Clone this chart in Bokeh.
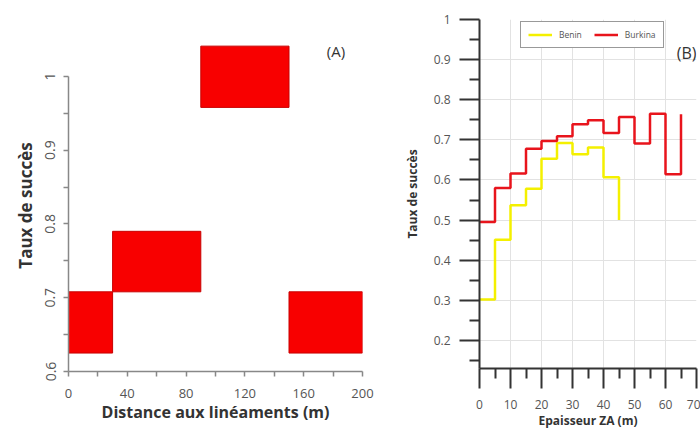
from bokeh.plotting import figure
from bokeh.layouts import row, column
from bokeh.models import Range1d, FixedTicker, NumeralTickFormatter, Label
from bokeh.embed import file_html
from bokeh.resources import INLINE

# ---------------- Panel A data ----------------
dist_left = [0, 30, 90, 150]
dist_right = [30, 90, 150, 200]
rate_low = [0.625, 0.708, 0.958, 0.625]
rate_high = [0.708, 0.790, 1.041, 0.708]
a_xticks = [0, 40, 80, 120, 160, 200]
a_xminor = [20, 60, 100, 140, 180]
a_yticks = [0.6, 0.7, 0.8, 0.9, 1.0]
a_yminor = [0.65, 0.75, 0.85, 0.95]

# ---------------- Panel B data ----------------
benin_x = [0, 5, 10, 15, 20, 25, 30, 35, 40, 45]
benin_y = [0.302, 0.451, 0.537, 0.578, 0.653, 0.692, 0.664, 0.681, 0.607, 0.500]
burkina_x = [0, 5, 10, 15, 20, 25, 30, 35, 40, 45, 50, 55, 60, 65]
burkina_y = [0.495, 0.580, 0.616, 0.678, 0.697, 0.709, 0.739, 0.749, 0.717,
             0.757, 0.691, 0.765, 0.614, 0.764]
b_xticks = [0, 10, 20, 30, 40, 50, 60, 70]
b_xminor = [5, 15, 25, 35, 45, 55, 65]
b_yticks = [0.2, 0.3, 0.4, 0.5, 0.6, 0.7, 0.8, 0.9, 1.0]
b_yminor = [0.15, 0.25, 0.35, 0.45, 0.55, 0.65, 0.75, 0.85, 0.95]

FONT = "Open Sans"

# ---------------- Panel A ----------------
pA = figure(width=400, height=431, output_backend="svg", toolbar_location=None,
            x_range=Range1d(0, 200), y_range=Range1d(0.6, 1.05),
            min_border_left=68, min_border_right=38, min_border_top=39,
            min_border_bottom=60)
pA.outline_line_color = None
pA.grid.visible = False
pA.quad(left=dist_left, right=dist_right, bottom=rate_low, top=rate_high,
        fill_color="#f80000", line_color="#c80000", line_width=1)

pA.xaxis.ticker = FixedTicker(ticks=a_xticks, minor_ticks=a_xminor)
pA.yaxis.ticker = FixedTicker(ticks=a_yticks, minor_ticks=a_yminor)
pA.yaxis.formatter = NumeralTickFormatter(format="0.[0]")
pA.xaxis.bounds = (0, 200)
pA.yaxis.bounds = (0.6, 1.0)
for ax in (pA.xaxis[0], pA.yaxis[0]):
    ax.axis_line_color = "#888888"
    ax.axis_line_width = 1.5
    ax.major_tick_line_color = "#888888"
    ax.minor_tick_line_color = "#888888"
    ax.major_tick_line_width = 1.5
    ax.minor_tick_line_width = 1.5
    ax.major_tick_out = 5
    ax.major_tick_in = 0
    ax.minor_tick_out = 5
    ax.minor_tick_in = 0
    ax.major_label_text_font = FONT
    ax.major_label_text_font_size = "14px"
    ax.major_label_text_color = "#555555"
    ax.axis_label_text_font = FONT
    ax.axis_label_text_font_style = "bold"
    ax.axis_label_text_color = "#333333"
pA.xaxis.axis_label_text_font_size = "16px"
pA.yaxis.axis_label_text_font_size = "17px"
pA.xaxis.major_label_text_font_size = "13px"
pA.yaxis.major_label_orientation = "vertical"
pA.xaxis.axis_label = "Distance aux linéaments (m)"
pA.yaxis.axis_label = "Taux de succès"
pA.xaxis.major_label_standoff = 12
pA.xaxis.axis_label_standoff = 0
pA.yaxis.major_label_standoff = 8
pA.yaxis.axis_label_standoff = 6
pA.add_layout(Label(x=182, y=1.035, text="(A)", text_font=FONT,
                    text_font_size="15px", text_color="#333333",
                    text_align="center", text_baseline="middle"))

# ---------------- Panel B ----------------
pB = figure(width=300, height=431, output_backend="svg", toolbar_location=None,
            x_range=Range1d(0, 70), y_range=Range1d(0.13, 1.0),
            min_border_left=78, min_border_right=4, min_border_top=19,
            min_border_bottom=63)
pB.outline_line_color = None
pB.xaxis.ticker = FixedTicker(ticks=b_xticks, minor_ticks=b_xminor)
pB.yaxis.ticker = FixedTicker(ticks=b_yticks, minor_ticks=b_yminor)
pB.yaxis.formatter = NumeralTickFormatter(format="0.[0]")
pB.grid.grid_line_color = "#e2e2e2"
pB.grid.grid_line_width = 1

pB.step(benin_x, benin_y, mode="after", line_color="#f4f000", line_width=2.5,
        legend_label="Benin")
pB.step(burkina_x, burkina_y, mode="after", line_color="#e8141c", line_width=2.5,
        legend_label="Burkina")

for ax in (pB.xaxis[0], pB.yaxis[0]):
    ax.axis_line_color = "#333333"
    ax.axis_line_width = 2
    ax.major_tick_line_color = "#333333"
    ax.minor_tick_line_color = "#333333"
    ax.major_tick_line_width = 2
    ax.minor_tick_line_width = 2
    ax.major_tick_out = 20
    ax.major_tick_in = 0
    ax.minor_tick_out = 10
    ax.minor_tick_in = 0
    ax.major_label_text_font = FONT
    ax.major_label_text_font_size = "12px"
    ax.major_label_text_color = "#555555"
    ax.axis_label_text_font = FONT
    ax.axis_label_text_font_size = "12px"
    ax.axis_label_text_font_style = "bold"
    ax.axis_label_text_color = "#333333"
pB.xaxis.axis_label = "Epaisseur ZA (m)"
pB.yaxis.axis_label = "Taux de succès"
pB.xaxis.major_label_standoff = 11
pB.xaxis.axis_label_standoff = 0
pB.yaxis.major_label_standoff = 9
pB.yaxis.axis_label_standoff = 10

lg = pB.legend[0]
lg.orientation = "horizontal"
lg.location = (41, 320)
lg.border_line_color = "#333333"
lg.border_line_width = 1.5
lg.label_text_font = FONT
lg.label_text_font_size = "8.5px"
lg.label_text_color = "#555555"
lg.glyph_width = 24
lg.glyph_height = 11
lg.label_height = 11
lg.spacing = 12
lg.padding = 7
lg.margin = 0
lg.label_standoff = 7
lg.background_fill_alpha = 1

pB.add_layout(Label(x=70, y=0.916, text="(B)", text_font=FONT,
                    text_font_size="16px", text_color="#333333",
                    text_align="right", text_baseline="middle"))

layout = row(column(pA), column(pB))
open("out.html", "w").write(file_html(layout, INLINE))
